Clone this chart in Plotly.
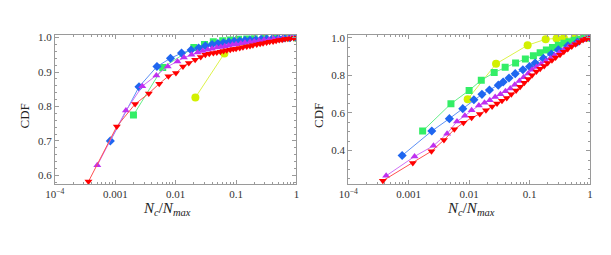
import plotly.graph_objects as go

# ---------------- data: left panel ----------------
L_yellow_x = [0.0212, 0.064, 0.19, 0.45, 1.0]
L_yellow_y = [0.826, 0.954, 0.990, 0.998, 1.0]

L_green_x = [0.0020, 0.0061, 0.020, 0.030, 0.042, 0.060, 0.080, 0.11, 0.15, 0.20, 0.30, 0.45, 0.70, 1.0]
L_green_y = [0.775, 0.913, 0.971, 0.980, 0.988, 0.991, 0.993, 0.995, 0.996, 0.997, 0.998, 0.999, 0.9995, 1.0]

L_blue_x = [0.000828, 0.00247, 0.0049, 0.0082, 0.0125, 0.018, 0.024, 0.031, 0.040, 0.050, 0.062, 0.076,
            0.093, 0.115, 0.14, 0.17, 0.21, 0.26, 0.32, 0.40, 0.50, 0.62, 0.78, 1.0]
L_blue_y = [0.700, 0.857, 0.916, 0.940, 0.955, 0.964, 0.970, 0.976, 0.980, 0.983, 0.985, 0.987,
            0.989, 0.990, 0.992, 0.993, 0.994, 0.995, 0.996, 0.997, 0.998, 0.999, 0.9995, 1.0]

L_mag_x = [0.000504, 0.0015, 0.0028, 0.00479, 0.00738, 0.0107, 0.0137, 0.0183, 0.023, 0.028, 0.034, 0.040,
           0.048, 0.056, 0.065, 0.075, 0.087, 0.10, 0.12, 0.14, 0.17, 0.20, 0.24, 0.29, 0.35, 0.42, 0.50,
           0.60, 0.72, 0.85, 1.0]
L_mag_y = [0.629, 0.788, 0.859, 0.890, 0.916, 0.931, 0.942, 0.950, 0.957, 0.961, 0.965, 0.968,
           0.971, 0.973, 0.975, 0.977, 0.979, 0.981, 0.983, 0.985, 0.987, 0.989, 0.991, 0.993, 0.994, 0.996, 0.997,
           0.998, 0.999, 0.9995, 1.0]

L_red_x = [0.00036, 0.00106, 0.00213, 0.00359, 0.00534, 0.00757, 0.0101, 0.0132, 0.0165, 0.021, 0.026, 0.031,
           0.036, 0.042, 0.048, 0.055, 0.062, 0.070, 0.080, 0.090, 0.10, 0.115, 0.13, 0.15, 0.17, 0.19, 0.22,
           0.25, 0.28, 0.32, 0.36, 0.41, 0.46, 0.52, 0.58, 0.65, 0.72, 0.80, 0.90, 1.0]
L_red_y = [0.582, 0.742, 0.807, 0.838, 0.866, 0.888, 0.897, 0.916, 0.926, 0.936, 0.944, 0.950,
           0.953, 0.955, 0.957, 0.959, 0.961, 0.963, 0.965, 0.967, 0.968, 0.970, 0.972, 0.974, 0.976, 0.978, 0.980,
           0.982, 0.984, 0.986, 0.988, 0.989, 0.991, 0.993, 0.994, 0.996, 0.997, 0.998, 0.999, 1.0]

# ---------------- data: right panel ----------------
R_yellow_x = [0.00946, 0.0279, 0.093, 0.185, 0.28, 0.37, 0.56, 1.0]
R_yellow_y = [0.673, 0.861, 0.960, 0.992, 0.996, 0.998, 0.999, 1.0]

R_green_x = [0.0017, 0.0050, 0.0100, 0.0159, 0.026, 0.0395, 0.0588, 0.0853, 0.116, 0.15, 0.19, 0.24, 0.30,
             0.37, 0.45, 0.55, 0.66, 0.80, 1.0]
R_green_y = [0.504, 0.649, 0.720, 0.774, 0.815, 0.843, 0.866, 0.887, 0.904, 0.920, 0.935, 0.948, 0.960,
             0.970, 0.978, 0.986, 0.992, 0.997, 1.0]

R_blue_x = [0.000778, 0.00241, 0.00471, 0.00785, 0.012, 0.0163, 0.0217, 0.0304, 0.0366, 0.0458, 0.058, 0.0776,
            0.10, 0.124, 0.17, 0.23, 0.30, 0.43, 0.62, 1.0]
R_blue_y = [0.374, 0.504, 0.570, 0.623, 0.670, 0.699, 0.722, 0.748, 0.765, 0.786, 0.809, 0.830,
            0.847, 0.866, 0.890, 0.913, 0.936, 0.957, 0.977, 1.0]

R_mag_x = [0.000423, 0.00125, 0.00257, 0.00432, 0.0063, 0.0085, 0.011, 0.0145, 0.018, 0.022, 0.027, 0.033,
           0.040, 0.048, 0.057, 0.068, 0.080, 0.095, 0.11, 0.13, 0.155, 0.185, 0.22, 0.26, 0.31, 0.37, 0.44,
           0.52, 0.62, 0.74, 0.87, 1.0]
R_mag_y = [0.266, 0.369, 0.426, 0.490, 0.555, 0.585, 0.615, 0.640, 0.655, 0.668, 0.685, 0.700,
           0.715, 0.730, 0.750, 0.770, 0.790, 0.810, 0.830, 0.845, 0.860, 0.875, 0.890, 0.905, 0.920, 0.935, 0.950,
           0.962, 0.975, 0.987, 0.995, 1.0]

R_red_x = [0.000373, 0.00117, 0.00238, 0.00383, 0.00569, 0.00805, 0.011, 0.015, 0.019, 0.024, 0.029, 0.035,
           0.042, 0.050, 0.060, 0.070, 0.082, 0.095, 0.11, 0.13, 0.15, 0.175, 0.20, 0.235, 0.27, 0.32, 0.37,
           0.43, 0.50, 0.58, 0.67, 0.77, 0.88, 1.0]
R_red_y = [0.240, 0.334, 0.397, 0.456, 0.513, 0.548, 0.574, 0.595, 0.615, 0.635, 0.650, 0.665,
           0.680, 0.700, 0.720, 0.740, 0.760, 0.780, 0.800, 0.820, 0.835, 0.850, 0.865, 0.880, 0.895, 0.910, 0.925,
           0.940, 0.953, 0.965, 0.977, 0.988, 0.995, 1.0]

x_tickvals = [0.0001, 0.001, 0.01, 0.1, 1]
x_ticktext = ["10<sup>\u22124</sup>", "0.001", "0.01", "0.1", "1"]
L_ytickvals = [0.6, 0.7, 0.8, 0.9, 1.0]
L_yticktext = ["0.6", "0.7", "0.8", "0.9", "1.0"]
R_ytickvals = [0.4, 0.6, 0.8, 1.0]
R_yticktext = ["0.4", "0.6", "0.8", "1.0"]

# ---------------- styles ----------------
styles = {
    "yellow": dict(color="#D2F000", line="#DDF24A", symbol="circle", size=8),
    "green": dict(color="#33EE66", line="#66EE88", symbol="square", size=7),
    "blue": dict(color="#1F66F0", line="#5C90F5", symbol="diamond", size=7),
    "mag": dict(color="#C030F0", line="#D070F5", symbol="triangle-up", size=7),
    "red": dict(color="#FF0000", line="#FF5050", symbol="triangle-down", size=7),
}

fig = go.Figure()

def add(xs, ys, key, xa, ya):
    s = styles[key]
    fig.add_trace(go.Scatter(
        x=xs, y=ys, mode="lines+markers", xaxis=xa, yaxis=ya,
        line=dict(color=s["line"], width=1),
        marker=dict(symbol=s["symbol"], size=s["size"], color=s["color"], line=dict(width=0)),
        showlegend=False, hoverinfo="skip"))

for xs, ys, k in [(L_yellow_x, L_yellow_y, "yellow"), (L_green_x, L_green_y, "green"),
                  (L_blue_x, L_blue_y, "blue"), (L_mag_x, L_mag_y, "mag"), (L_red_x, L_red_y, "red")]:
    add(xs, ys, k, "x", "y")
for xs, ys, k in [(R_yellow_x, R_yellow_y, "yellow"), (R_green_x, R_green_y, "green"),
                  (R_blue_x, R_blue_y, "blue"), (R_mag_x, R_mag_y, "mag"), (R_red_x, R_red_y, "red")]:
    add(xs, ys, k, "x2", "y2")

# page body has an 8px margin: work in screen pixels and subtract it
OFF = 8
W, H = 611 - 2 * OFF, 255 - 2 * OFF
def px(v):
    return (v - OFF) / W
def py(v):
    return 1 - (v - OFF) / H

top, bot = 32.0, 183.5
ydom = [py(bot), py(top)]
tickfont = dict(family="Liberation Serif, Times New Roman, serif", size=11, color="#333333")
frame = "#9a9a9a"

xcommon = dict(type="log", range=[-4, 0], tickvals=x_tickvals, ticktext=x_ticktext,
               ticks="inside", ticklen=4, tickcolor=frame, showline=True, linecolor=frame, linewidth=1,
               mirror="allticks", showgrid=False, zeroline=False, tickfont=tickfont,
               minor=dict(ticks="inside", ticklen=2, tickcolor=frame, dtick="D1", showgrid=False))

fig.update_layout(
    width=W, height=H, margin=dict(l=0, r=0, t=0, b=0),
    paper_bgcolor="white", plot_bgcolor="white",
    xaxis=dict(domain=[px(45.7), px(292.7)], anchor="y", **xcommon),
    xaxis2=dict(domain=[px(345.7), px(592.7)], anchor="y2", **xcommon),
    yaxis=dict(domain=ydom, anchor="x", range=[0.574, 1.0085], tickvals=L_ytickvals, ticktext=L_yticktext,
               ticks="inside", ticklen=4, tickcolor=frame, showline=True, linecolor=frame, mirror="allticks",
               showgrid=False, zeroline=False, tickfont=tickfont,
               minor=dict(ticks="inside", ticklen=2, tickcolor=frame, dtick=0.02, showgrid=False)),
    yaxis2=dict(domain=ydom, anchor="x2", range=[0.221, 1.016], tickvals=R_ytickvals, ticktext=R_yticktext,
                ticks="inside", ticklen=4, tickcolor=frame, showline=True, linecolor=frame, mirror="allticks",
                showgrid=False, zeroline=False, tickfont=tickfont,
                minor=dict(ticks="inside", ticklen=2, tickcolor=frame, dtick=0.05, showgrid=False)),
)

titlefont = dict(family="Liberation Serif, Times New Roman, serif", size=13, color="#222222")
xtitle = "<i>N</i><sub><i>c</i></sub>/<i>N</i><sub><i>max</i></sub>"
for xc in [160, 471]:
    fig.add_annotation(text=xtitle, x=px(xc), y=py(209), xref="paper", yref="paper",
                       showarrow=False, font=dict(family=titlefont["family"], size=15, color="#222222"),
                       xanchor="center", yanchor="middle")
for xc in [15, 315]:
    fig.add_annotation(text="CDF", x=px(xc), y=py(114), xref="paper", yref="paper",
                       showarrow=False, font=titlefont, textangle=-90,
                       xanchor="center", yanchor="middle")

fig.write_html("out.html")
